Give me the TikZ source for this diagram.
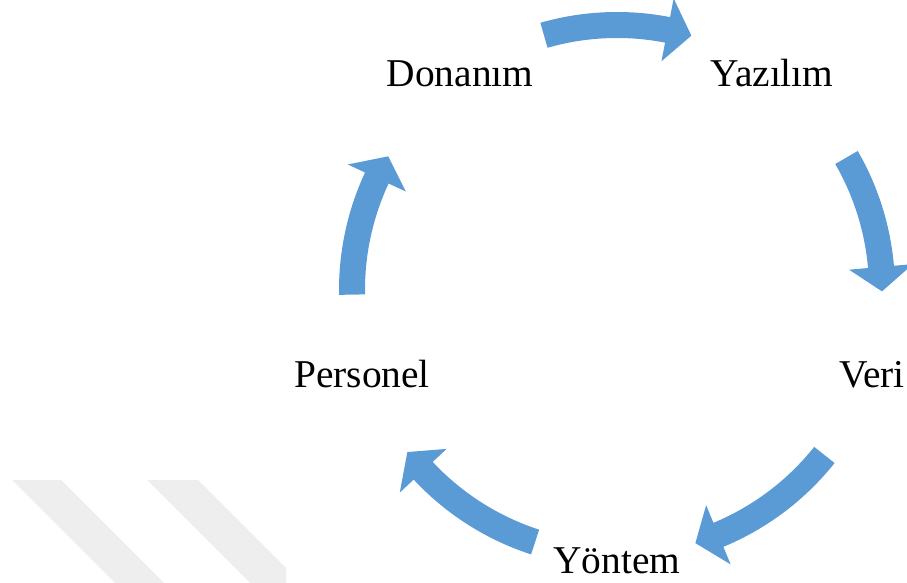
\documentclass[tikz,border=0pt]{standalone}
\usepackage{fontspec}
\setmainfont{Liberation Serif}
\usetikzlibrary{calc}
\definecolor{okmavi}{HTML}{5B9BD5}
\definecolor{seritgri}{HTML}{EEEEEE}

% halka uzerinde kalin ok: #1 kuyruk acisi, #2 bas tabani acisi
\newcommand{\donguok}[2]{%
  \fill[okmavi]
    ($(m)+(#1:278)$) arc[start angle=#1, end angle=#2, radius=278]
    -- ($(m)+(#2:297)$)
    -- ($(m)+({#2-5.3}:265)$)
    -- ($(m)+(#2:233)$)
    -- ($(m)+(#2:252)$) arc[start angle=#2, end angle=#1, radius=252]
    -- cycle;
}

\begin{document}
\begin{tikzpicture}[
    x=0.5pt, y=0.5pt,
    etiket/.style={font=\fontsize{19.7}{23}\selectfont, anchor=base, inner sep=0pt}
    ]

    \useasboundingbox (0,0) rectangle (907,-583);
    \clip (0,0) rectangle (907,-583);

    % seritler
    \fill[seritgri] (12,-480) -- (61,-480) -- (164,-583) -- (115,-583) -- cycle;
    \fill[seritgri] (147,-480) -- (198,-480) -- (286,-568) -- (286,-583) -- (250,-583) -- cycle;

    % merkez
    \coordinate (m) at (617,-290);

    % etiketler
    \node[etiket] (donanim) at (460,-87) {Donanım};
    \node[etiket] (yazilim) at (772,-87) {Yazılım};
    \node[etiket] (veri) at (872,-387) {Veri};
    \node[etiket] (yontem) at (617,-574) {Yöntem};
    \node[etiket] (personel) at (362,-387) {Personel};

    % oklar
    \donguok{106}{79}
    \donguok{30}{5}
    \donguok{-38.5}{-67.5}
    \donguok{-108}{-137}
    \donguok{181}{155}

\end{tikzpicture}
\end{document}
